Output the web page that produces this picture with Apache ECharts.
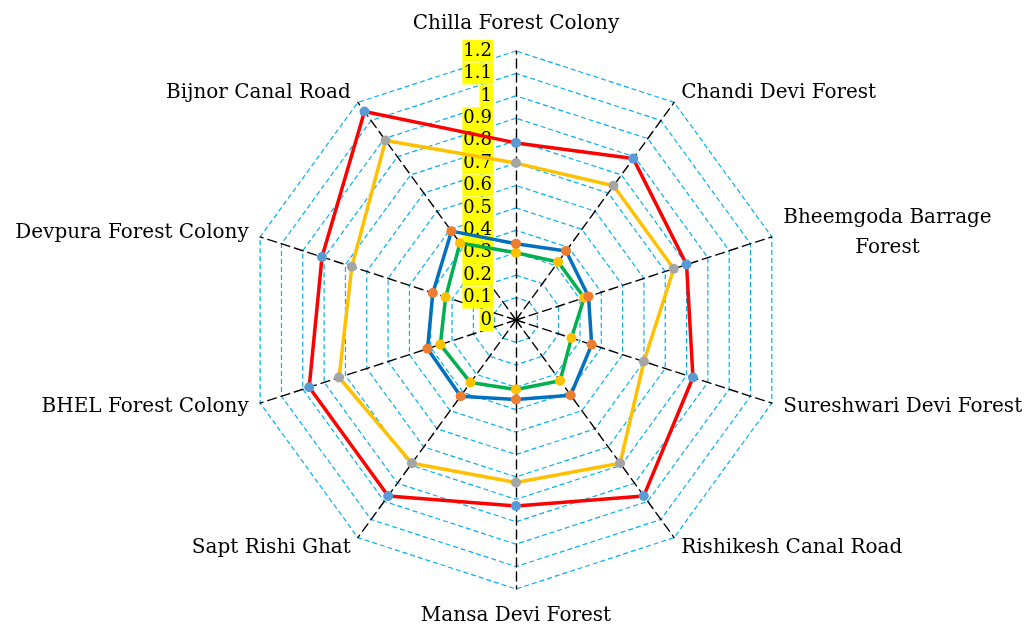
<!DOCTYPE html>
<html>
<head>
<meta charset="utf-8">
<script src="https://cdn.jsdelivr.net/npm/echarts@6/dist/echarts.min.js"></script>
<style>
html,body{margin:0;padding:0;background:#fff;}
#chart{width:1032px;height:629px;}
</style>
</head>
<body>
<div id="chart"></div>
<script>
// Categories in clockwise order starting from the top
var categories = ['Chilla Forest Colony', 'Chandi Devi Forest', 'Bheemgoda Barrage\nForest', 'Sureshwari Devi Forest',
  'Rishikesh Canal Road', 'Mansa Devi Forest', 'Sapt Rishi Ghat', 'BHEL Forest Colony',
  'Devpura Forest Colony', 'Bijnor Canal Road'];
var seriesRed    = [0.79, 0.89, 0.80, 0.83, 0.97, 0.83, 0.97, 0.97, 0.91, 1.15];
var seriesOrange = [0.70, 0.74, 0.74, 0.60, 0.79, 0.725, 0.79, 0.83, 0.77, 0.99];
var seriesBlue   = [0.34, 0.38, 0.34, 0.355, 0.415, 0.355, 0.42, 0.415, 0.39, 0.49];
var seriesGreen  = [0.30, 0.32, 0.32, 0.26, 0.335, 0.31, 0.345, 0.355, 0.33, 0.425];
var tickLabels = ['0', '0.1', '0.2', '0.3', '0.4', '0.5', '0.6', '0.7', '0.8', '0.9', '1', '1.1', '1.2'];

// ECharts places radar indicators counter-clockwise; reorder to get clockwise layout
var order = [0];
for (var i = categories.length - 1; i >= 1; i--) order.push(i);
function reorder(arr) { return order.map(function (k) { return arr[k]; }); }

var FONT = 'DejaVu Serif';
var indicators = reorder(categories).map(function (name, idx) {
  var ind = { name: name, min: 0, max: 1.2 };
  if (idx === 0) {
    ind.axisLabel = {
      show: true,
      showMinLabel: true,
      showMaxLabel: true,
      margin: 23,
      color: '#000',
      fontFamily: FONT,
      fontSize: 18,
      lineHeight: 20,
      backgroundColor: '#FFFF00',
      padding: [1, 1, 1, 1],
      formatter: function (v, i) { return tickLabels[i] !== undefined ? tickLabels[i] : String(v); }
    };
  }
  return ind;
});

var chart = echarts.init(document.getElementById('chart'));
function mk(name, vals, lineColor, markColor) {
  return {
    name: name,
    value: reorder(vals),
    symbol: 'circle',
    symbolSize: 10,
    lineStyle: { color: lineColor, width: 3.5 },
    itemStyle: { color: markColor }
  };
}
chart.setOption({
  animation: false,
  backgroundColor: '#fff',
  radar: {
    center: [516, 320],
    radius: 269,
    startAngle: 90,
    splitNumber: 12,
    shape: 'polygon',
    indicator: indicators,
    axisName: {
      color: '#000',
      fontFamily: FONT,
      fontSize: 20,
      lineHeight: 30,
      formatter: function (n) {
        if (n.indexOf('\n') >= 0) {
          var p = n.split('\n');
          return '{a|' + p[0] + '}\n{b|' + p[1] + '}';
        }
        return n;
      },
      rich: {
        a: { fontFamily: FONT, fontSize: 20, color: '#000', lineHeight: 30 },
        b: { fontFamily: FONT, fontSize: 20, color: '#000', lineHeight: 30, align: 'center' }
      }
    },
    nameGap: 12,
    axisLabel: { show: false },
    axisTick: { show: false },
    axisLine: { lineStyle: { color: '#000', width: 1.4, type: [9, 5] } },
    splitLine: { lineStyle: { color: '#00B0F0', width: 1.2, type: [5, 3] } },
    splitArea: { show: false }
  },
  series: [{
    type: 'radar',
    z: 3,
    data: [
      mk('Series 4', seriesGreen, '#00B050', '#FFC000'),
      mk('Series 3', seriesBlue, '#0070C0', '#ED7D31'),
      mk('Series 2', seriesOrange, '#FFC000', '#A5A5A5'),
      mk('Series 1', seriesRed, '#FF0000', '#5B9BD5')
    ]
  }]
});
</script>
</body>
</html>
